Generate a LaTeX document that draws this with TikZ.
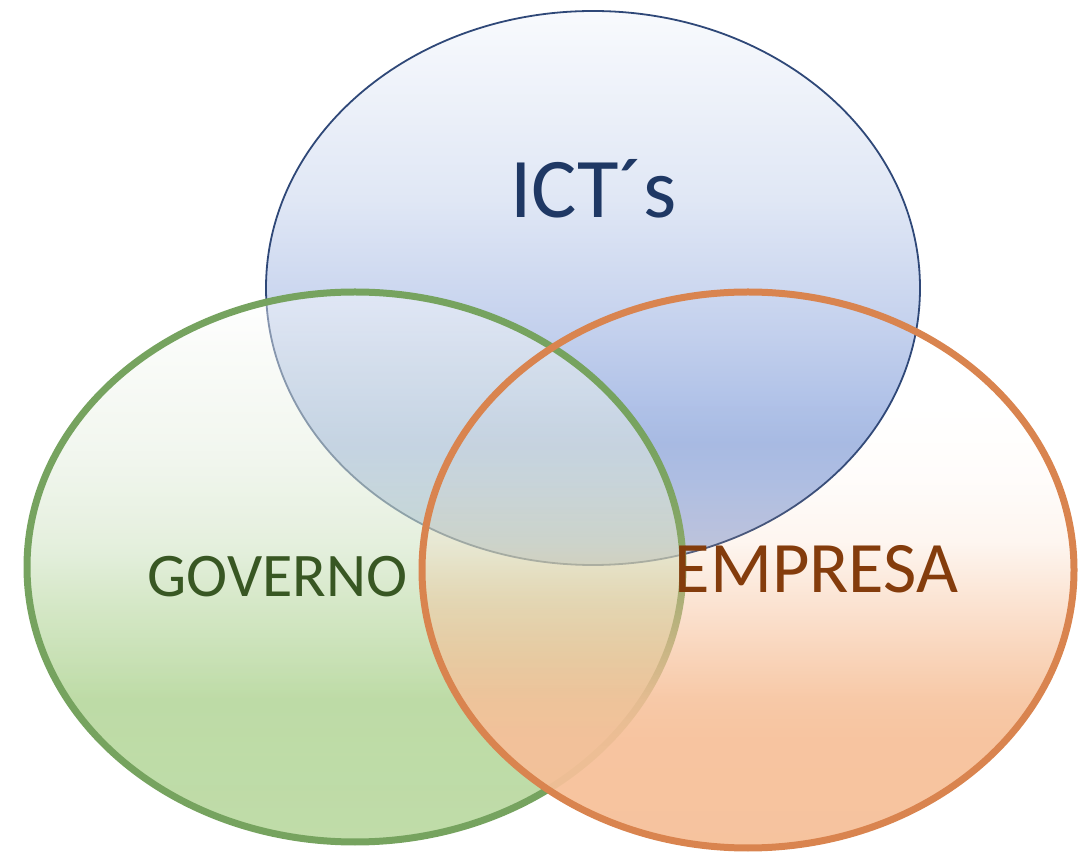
\documentclass[tikz,border=0pt]{standalone}
\usepackage{fontspec}
\setmainfont{Carlito}
\usetikzlibrary{fadings}

\definecolor{ictline}{RGB}{47,72,120}
\definecolor{govline}{RGB}{118,163,95}
\definecolor{empline}{RGB}{217,132,79}
\definecolor{icttext}{RGB}{31,56,100}
\definecolor{govtext}{RGB}{56,87,35}
\definecolor{emptext}{RGB}{132,60,12}
\definecolor{empfill}{RGB}{246,192,153}
\pgfdeclareverticalshading{ictshade}{100bp}{rgb(0bp)=(0.71,0.776,0.914); rgb(25bp)=(0.71,0.776,0.914); rgb(36bp)=(0.651,0.729,0.898); rgb(46bp)=(0.765,0.816,0.929); rgb(58bp)=(0.878,0.906,0.961); rgb(75bp)=(0.973,0.98,0.992); rgb(100bp)=(0.973,0.98,0.992)}
\pgfdeclareverticalshading{govshade}{100bp}{rgb(0bp)=(0.729,0.851,0.631); rgb(25bp)=(0.729,0.851,0.631); rgb(38bp)=(0.714,0.843,0.612); rgb(47bp)=(0.769,0.871,0.69); rgb(51.5bp)=(0.82,0.894,0.77); rgb(60.5bp)=(0.894,0.933,0.871); rgb(70bp)=(0.953,0.969,0.945); rgb(75bp)=(1,1,1); rgb(100bp)=(1,1,1)}
\pgfdeclareverticalshading{govalpha}{100bp}{gray(0bp)=(0.92); gray(25bp)=(0.92); gray(38bp)=(0.9); gray(47bp)=(0.7); gray(51.5bp)=(0.6); gray(60.5bp)=(0.5); gray(70bp)=(0.45); gray(75bp)=(0.4); gray(100bp)=(0.4)}
\pgfdeclareverticalshading{empalpha}{100bp}{gray(0bp)=(0.95); gray(25bp)=(0.95); gray(35bp)=(0.93); gray(38.5bp)=(0.86); gray(43.5bp)=(0.62); gray(47.5bp)=(0.42); gray(52.5bp)=(0.15); gray(58bp)=(0.05); gray(65bp)=(0); gray(100bp)=(0)}
\tikzfading[name=fadegov, shading=govalpha]
\tikzfading[name=fademp, shading=empalpha]

\begin{document}
\begin{tikzpicture}[x=1pt,y=1pt,
  lbl/.style={anchor=base,inner sep=0pt},
  ictfill/.style={shading=ictshade},
  govfill/.style={shading=govshade,path fading=fadegov},
  empfill/.style={fill=empfill,path fading=fademp}]
\useasboundingbox (0,0) rectangle (1082,852);
\coordinate (ict) at (593,564);
\coordinate (gov) at (355,285);
\coordinate (emp) at (748,282);
% ICT's at the back, then governo, then empresa
\shade [ictfill] (ict) ellipse [x radius=327,y radius=277];
\draw [ictline,line width=1.8pt] (ict) ellipse [x radius=327,y radius=277];
\shade [govfill] (gov) ellipse [x radius=328,y radius=275];
\draw [govline,line width=7pt] (gov) ellipse [x radius=328,y radius=275];
\fill [empfill] (emp) ellipse [x radius=326,y radius=278];
\draw [empline,line width=7pt] (emp) ellipse [x radius=326,y radius=278];
\node [lbl,icttext,font=\fontsize{85}{90}\selectfont] (ictlabel) at ([shift={(0.5,70)}]ict) {ICT´s};
\node [lbl,govtext,font=\fontsize{62}{70}\selectfont] (govlabel) at ([shift={(-77.5,-30)}]gov) {GOVERNO};
\node [lbl,emptext,font=\fontsize{72.5}{80}\selectfont] (emplabel) at ([shift={(68.5,-23)}]emp) {EMPRESA};
\end{tikzpicture}
\end{document}
